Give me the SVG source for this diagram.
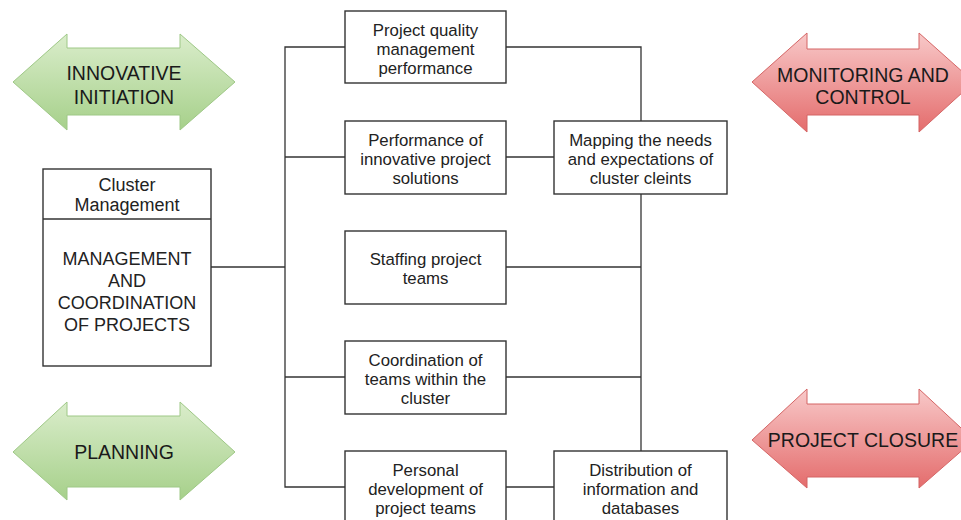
<svg xmlns="http://www.w3.org/2000/svg" width="961" height="520" viewBox="0 0 961 520">
<defs>
<linearGradient id="g" x1="0" y1="0" x2="0" y2="1">
<stop offset="0" stop-color="#daedcb"/>
<stop offset="1" stop-color="#a6d08a"/>
</linearGradient>
<linearGradient id="r" x1="0" y1="0" x2="0" y2="1">
<stop offset="0" stop-color="#f8c9c9"/>
<stop offset="1" stop-color="#e46c6c"/>
</linearGradient>
<style>
.box{fill:#fff;stroke:#333;stroke-width:1.4}
.t{font-family:"Liberation Sans",Arial,sans-serif;font-size:16.8px;fill:#222;text-anchor:middle}
.c{font-family:"Liberation Sans",Arial,sans-serif;font-size:18px;fill:#222;text-anchor:middle}
.a{font-family:"Liberation Sans",Arial,sans-serif;font-size:19.5px;fill:#1a1a1a;text-anchor:middle}
.ga{fill:url(#g);stroke:#9ec886;stroke-width:1}
.ra{fill:url(#r);stroke:#d46565;stroke-width:1}
.ln{fill:none;stroke:#333;stroke-width:1.3}
</style>
</defs>
<rect width="961" height="520" fill="#fff"/>

<g id="innovative-initiation">
<polygon class="ga" points="13,82 67,34 67,48 180,48 180,34 235,82 180,130 180,115 67,115 67,130"/>
<text class="a" x="124" y="80">INNOVATIVE</text>
<text class="a" x="124" y="104">INITIATION</text>
</g>
<g id="planning">
<polygon class="ga" points="13,452 67,402 67,416 180,416 180,402 235,452 180,500 180,487 67,487 67,500"/>
<text class="a" x="124" y="459">PLANNING</text>
</g>
<g id="monitoring-control">
<polygon class="ra" points="752,82 807,33 807,49 919,49 919,33 974,82 919,132 919,115 807,115 807,132"/>
<text class="a" x="863" y="82">MONITORING AND</text>
<text class="a" x="863" y="104">CONTROL</text>
</g>
<g id="project-closure">
<polygon class="ra" points="752,440 807,389 807,404 919,404 919,389 974,440 919,488 919,477 807,477 807,488"/>
<text class="a" x="863" y="447">PROJECT CLOSURE</text>
</g>

<g id="connectors">
<polyline class="ln" points="211,267 285,267"/>
<polyline class="ln" points="345,47 285,47 285,487 345,487"/>
<line class="ln" x1="285" y1="157" x2="345" y2="157"/>
<line class="ln" x1="285" y1="377" x2="345" y2="377"/>
<polyline class="ln" points="506,47 641,47 641,121"/>
<line class="ln" x1="506" y1="157" x2="554" y2="157"/>
<line class="ln" x1="641" y1="194" x2="641" y2="451"/>
<line class="ln" x1="506" y1="267" x2="641" y2="267"/>
<line class="ln" x1="506" y1="377" x2="641" y2="377"/>
<line class="ln" x1="506" y1="487" x2="554" y2="487"/>
</g>

<g id="cluster-management">
<rect class="box" x="43" y="169" width="168" height="197"/>
<line class="ln" x1="43" y1="219" x2="211" y2="219"/>
<text class="c" x="127" y="191">Cluster</text>
<text class="c" x="127" y="211">Management</text>
<text class="c" x="127" y="265">MANAGEMENT</text>
<text class="c" x="127" y="287">AND</text>
<text class="c" x="127" y="309">COORDINATION</text>
<text class="c" x="127" y="331">OF PROJECTS</text>
</g>

<g id="quality">
<rect class="box" x="345" y="11" width="161" height="72"/>
<text class="t" x="425.5" y="36">Project quality</text>
<text class="t" x="425.5" y="55">management</text>
<text class="t" x="425.5" y="74">performance</text>
</g>
<g id="innovative-solutions">
<rect class="box" x="345" y="121" width="161" height="73"/>
<text class="t" x="425.5" y="146">Performance of</text>
<text class="t" x="425.5" y="165">innovative project</text>
<text class="t" x="425.5" y="184">solutions</text>
</g>
<g id="staffing">
<rect class="box" x="345" y="231" width="161" height="73"/>
<text class="t" x="425.5" y="265">Staffing project</text>
<text class="t" x="425.5" y="284">teams</text>
</g>
<g id="coordination">
<rect class="box" x="345" y="341" width="161" height="73"/>
<text class="t" x="425.5" y="366">Coordination of</text>
<text class="t" x="425.5" y="385">teams within the</text>
<text class="t" x="425.5" y="404">cluster</text>
</g>
<g id="personal-development">
<rect class="box" x="345" y="451" width="161" height="73"/>
<text class="t" x="425.5" y="476">Personal</text>
<text class="t" x="425.5" y="495">development of</text>
<text class="t" x="425.5" y="514">project teams</text>
</g>
<g id="mapping">
<rect class="box" x="554" y="121" width="173" height="73"/>
<text class="t" x="640.5" y="146">Mapping the needs</text>
<text class="t" x="640.5" y="165">and expectations of</text>
<text class="t" x="640.5" y="184">cluster cleints</text>
</g>
<g id="distribution">
<rect class="box" x="554" y="451" width="173" height="73"/>
<text class="t" x="640.5" y="476">Distribution of</text>
<text class="t" x="640.5" y="495">information and</text>
<text class="t" x="640.5" y="514">databases</text>
</g>
</svg>
